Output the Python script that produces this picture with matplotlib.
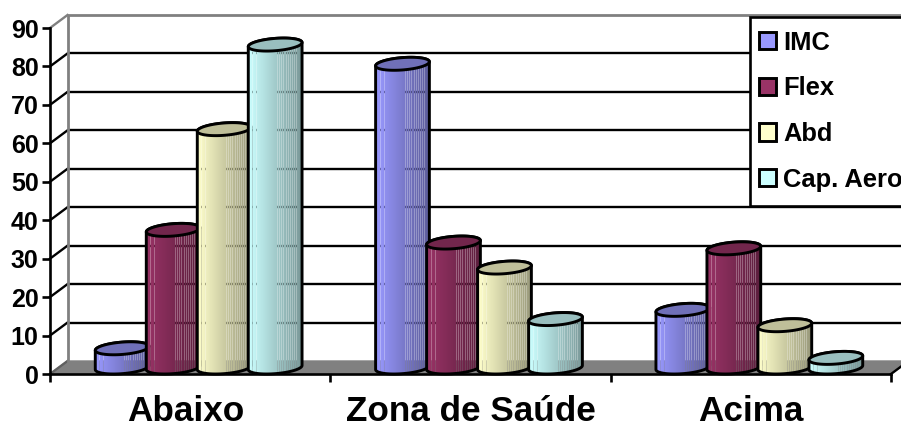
import numpy as np
import matplotlib
matplotlib.use("Agg")
import matplotlib.pyplot as plt
from matplotlib.patches import Polygon, Rectangle

# Chart data
categories = ["Abaixo", "Zona de Saúde", "Acima"]
series_names = ["IMC", "Flex", "Abd", "Cap. Aero"]
imc = [5, 79, 15]
flex = [35.8, 32.5, 31]
abd = [62, 26, 11]
cap_aero = [84, 12.6, 2.5]
series_values = [imc, flex, abd, cap_aero]
y_ticks = list(range(0, 100, 10))

# Face, top-cap colours
face_colors = ["#9999FF", "#993366", "#FFFFCC", "#CCFFFF"]
cap_colors = ["#7070B8", "#72264C", "#BFBF99", "#99BFBF"]

W, H = 901, 423
AX_L, AX_R, AX_BOT, AX_TOP = 50, 891, 374, 28

plt.rcParams["font.family"] = ["Liberation Sans", "DejaVu Sans"]
plt.rcParams["font.weight"] = "bold"

fig = plt.figure(figsize=(W / 100, H / 100), dpi=100, facecolor="white")
ax = fig.add_axes([AX_L / W, 1 - AX_BOT / H, (AX_R - AX_L) / W, (AX_BOT - AX_TOP) / H])
ax.patch.set_alpha(0)

px_x = 3 / (AX_R - AX_L)          # data units per pixel, horizontally
px_y = 90 / (AX_BOT - AX_TOP)     # data units per pixel, vertically
depth_x, depth_y = 17.5 * px_x, 13 * px_y
LW = 1.7
CYL_LW = 2.1

# Floor and walls of the oblique box
ax.add_patch(Polygon([(0, 0), (3, 0), (3 + depth_x, depth_y), (depth_x, depth_y)],
                     closed=True, fc="#808080", ec="#808080", lw=1, zorder=1, clip_on=False))
for v in y_ticks[1:-1]:
    ax.plot([depth_x, 3 + depth_x], [v + depth_y] * 2, color="black", lw=LW, zorder=1.5,
            clip_on=False, solid_capstyle="butt")
    ax.plot([0, depth_x], [v, v + depth_y], color="black", lw=LW, zorder=1.5, clip_on=False)
ax.plot([0, depth_x], [90, 90 + depth_y], color="#808080", lw=LW, zorder=1.5, clip_on=False)
ax.plot([depth_x, depth_x, 3 + depth_x], [depth_y, 90 + depth_y, 90 + depth_y],
        color="#808080", lw=LW + 0.3, zorder=1.6, clip_on=False)
ax.plot([0, depth_x], [0, depth_y], color="#606060", lw=LW, zorder=1.5, clip_on=False)
ax.plot([3, 3 + depth_x], [0, depth_y], color="black", lw=LW, zorder=1.5, clip_on=False)

# Columns of the body shading that let the backdrop show through
open_columns = [4, 8, 29, 31, 33, 35, 38, 40, 42, 44, 46, 48]


def shading(color):
    """Left-to-right gradient strip with a few see-through columns."""
    rgb = np.array(matplotlib.colors.to_rgb(color))
    u = np.linspace(0, 1, 54)
    s = 1.0 - 0.40 * u
    strip = np.ones((1, u.size, 4))
    strip[0, :, :3] = np.clip(rgb[None, :] * s[:, None], 0, 1)
    strip[0, open_columns, 3] = 0.72
    return strip


bar_step = 51 * px_x
half_w = 25.5 * px_x
cyl_dx, cyl_dy = 8.5 * px_x, 6.5 * px_y
t0 = np.arctan2(cyl_dx / px_x, half_w / px_x)


def ring(cx, cy, t):
    return np.column_stack([cx + half_w * np.cos(t) + cyl_dx * np.sin(t),
                            cy + cyl_dy * np.sin(t)])


# Cylinders, left to right so that each overlaps the previous one
z = 3.0
for c in range(len(categories)):
    for s, values in enumerate(series_values):
        v = values[c]
        cx = c + 0.5 + (s - 1.5) * bar_step + cyl_dx
        back = ring(cx, v + cyl_dy, np.linspace(t0, t0 + np.pi, 40))
        front = ring(cx, cyl_dy, np.linspace(t0 + np.pi, t0 + 2 * np.pi, 40))
        body = np.vstack([back, front])
        xmin, xmax = body[:, 0].min(), body[:, 0].max()
        im = ax.imshow(shading(face_colors[s]), extent=[xmin, xmax, 0, v + 2 * cyl_dy], aspect="auto",
                       interpolation="nearest", zorder=z, clip_on=True)
        ax.add_patch(Polygon(body, closed=True, fc="none", ec="black", lw=CYL_LW, zorder=z + 0.2,
                             clip_on=False, joinstyle="round"))
        im.set_clip_path(Polygon(body, closed=True, transform=ax.transData))
        top = ring(cx, v + cyl_dy, np.linspace(0, 2 * np.pi, 90))
        ax.add_patch(Polygon(top, closed=True, fc=cap_colors[s], ec="black", lw=CYL_LW,
                             zorder=z + 0.3, clip_on=False))
        z += 1

# Axes, ticks and labels
ax.set_xlim(0, 3)
ax.set_ylim(0, 90)
for side in ("top", "right"):
    ax.spines[side].set_visible(False)
for side in ("left", "bottom"):
    ax.spines[side].set_linewidth(LW + 0.2)
    ax.spines[side].set_zorder(60)
ax.set_yticks(y_ticks)
ax.tick_params(axis="y", length=6, width=LW + 0.2, labelsize=18, pad=2.2)
ax.set_xticks([0, 1, 2, 3])
ax.set_xticklabels([])
ax.tick_params(axis="x", which="major", length=6, width=LW + 0.2)
ax.set_xticks([0.486, 1.5, 2.5], minor=True)
ax.set_xticklabels(categories, minor=True, fontsize=25.3)
ax.tick_params(axis="x", which="minor", length=0, pad=15)

# Legend: frame runs past the right edge of the figure
fig.add_artist(Rectangle((749.5 / W, 1 - 206 / H), 170 / W, 189 / H, transform=fig.transFigure,
                         fc="white", ec="black", lw=LW + 0.2, zorder=70))
handles = [Rectangle((0, 0), 1, 1, fc=col, ec="black", lw=CYL_LW) for col in face_colors]
leg = fig.legend(handles, series_names, loc="upper left",
                 bbox_to_anchor=(759 / W, 1 - 30.5 / H), bbox_transform=fig.transFigure,
                 frameon=False, fontsize=18.4, borderpad=0, borderaxespad=0,
                 handlelength=0.67, handleheight=0.67, handletextpad=0.28, labelspacing=0.85)
leg.set_zorder(71)

fig.savefig("out.png", dpi=100)
